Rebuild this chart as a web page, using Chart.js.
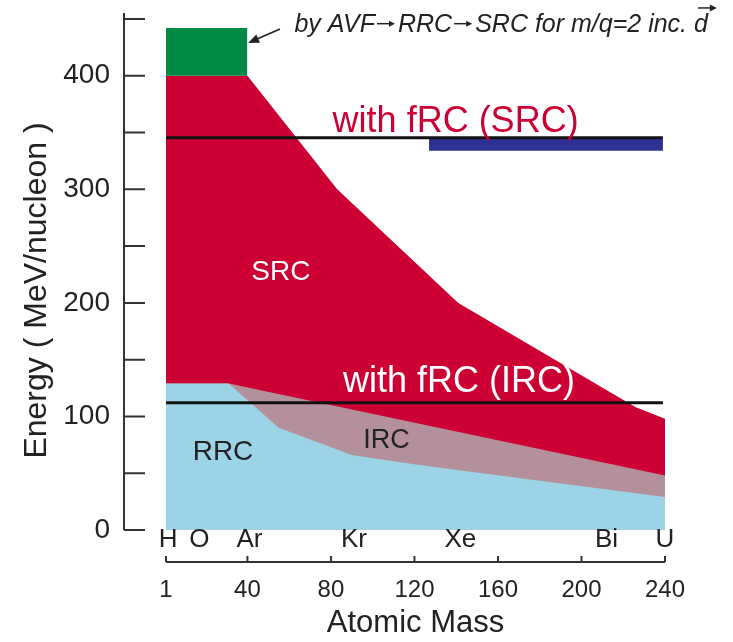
<!DOCTYPE html>
<html>
<head>
<meta charset="utf-8">
<script src="https://cdn.jsdelivr.net/npm/chart.js@4.4.1/dist/chart.umd.min.js"></script>
<style>
  html, body { margin: 0; padding: 0; background: #ffffff; }
  #wrap { width: 733px; height: 642px; position: relative; }
</style>
</head>
<body>
<div id="wrap"><canvas id="chart"></canvas></div>
<script>
const FONT = '"Liberation Sans", Arial, Helvetica, sans-serif';

// Upper edge of each accelerator region: atomic mass -> energy (MeV/nucleon)
const srcMass   = [1, 40, 83, 141, 226, 240];
const srcEnergy = [400, 400, 300, 200, 108, 98];
const ircMass   = [1, 31, 240];
const ircEnergy = [129, 129, 48];
const rrcMass   = [1, 31, 55, 90, 123, 240];
const rrcEnergy = [129, 129, 90, 66, 57, 29];

// AVF -> RRC -> SRC route for m/q = 2 (incl. polarized d)
const avfMass   = [1, 40];
const avfTop    = [442, 442];
const avfBase   = 400;

// fRC upgrade levels
const fRcMass      = [1, 239];
const fRcSrcLevel  = [345.5, 345.5];
const fRcIrcLevel  = [112, 112];
const bandMass     = [127, 239];
const bandTop      = [344.5, 344.5];
const bandBase     = 334;

// Axes
const xTicks = [1, 40, 80, 120, 160, 200, 240];
const yTicks = [0, 50, 100, 150, 200, 250, 300, 350, 400, 450];
const yLabelled = [0, 100, 200, 300, 400];
const elementNames = ['H', 'O', 'Ar', 'Kr', 'Xe', 'Bi', 'U'];
const elementAt    = [2, 17, 41, 91, 142, 212, 240];

const RED = '#cc0033', GREEN = '#008a46', SKY = '#9dd3e7', MAUVE = '#b3909b', NAVY = '#2e3192', INK = '#222222';

const pts = (xs, ys) => xs.map((x, i) => ({ x, y: ys[i] }));
const area = (label, data, color, fill) => ({
  label, data, fill, backgroundColor: color, borderColor: 'rgba(0,0,0,0)',
  borderWidth: 0, pointRadius: 0, tension: 0
});
const rule = (label, data) => ({
  label, data, fill: false, borderColor: '#111111', borderWidth: 3, pointRadius: 0, tension: 0
});

// Text placed in data coordinates (mass, energy); baseline-anchored
const notes = [
  { text: 'SRC', x: 56, y: 220, color: '#ffffff', size: 28, align: 'center' },
  { text: 'RRC', x: 28.3, y: 61.6, color: INK, size: 28, align: 'center' },
  { text: 'IRC', x: 106.6, y: 72.3, color: INK, size: 27, align: 'center' },
  { text: 'with fRC (SRC)', x: 80.8, y: 350.5, color: RED, size: 36, align: 'left' },
  { text: 'with fRC (IRC)', x: 85.8, y: 121.5, color: '#ffffff', size: 36, align: 'left' }
];
// caption pieces; null marks a small drawn arrow between stages
const routeNote = { parts: ['by AVF', null, 'RRC', null, 'SRC for m/q=2 inc. ', 'd'], x: 62.5, y: 438.6, size: 25 };
const routeArrow = { from: [55.6, 441.2], to: [40.3, 428.9] };

function smallArrow(ctx, x0, x1, yy, head, half) {
  ctx.beginPath();
  ctx.moveTo(x0, yy);
  ctx.lineTo(x1 - head + 1, yy);
  ctx.stroke();
  ctx.beginPath();
  ctx.moveTo(x1, yy);
  ctx.lineTo(x1 - head, yy - half);
  ctx.lineTo(x1 - head, yy + half);
  ctx.closePath();
  ctx.fill();
}

const decor = {
  id: 'decor',
  afterDraw(chart) {
    const { ctx, chartArea, scales: { x, y } } = chart;
    ctx.save();
    ctx.strokeStyle = '#333333';
    ctx.lineWidth = 2;

    // detached energy axis with outward ticks
    const axX = chartArea.left - 42;
    ctx.beginPath();
    ctx.moveTo(axX, y.getPixelForValue(yTicks[yTicks.length - 1]) - 6);
    ctx.lineTo(axX, y.getPixelForValue(0));
    y.ticks.forEach(t => {
      const py = y.getPixelForValue(t.value);
      ctx.moveTo(axX, py);
      ctx.lineTo(axX + 21, py);
    });
    ctx.stroke();

    // detached mass axis with inward ticks
    const axY = chartArea.bottom;
    ctx.beginPath();
    ctx.moveTo(x.getPixelForValue(xTicks[0]), axY);
    ctx.lineTo(x.getPixelForValue(xTicks[xTicks.length - 1]), axY);
    x.ticks.forEach(t => {
      const px = x.getPixelForValue(t.value);
      ctx.moveTo(px, axY);
      ctx.lineTo(px, axY - 6);
    });
    ctx.stroke();

    // element names along the mass axis
    ctx.fillStyle = INK;
    ctx.font = '26px ' + FONT;
    ctx.textAlign = 'center';
    ctx.textBaseline = 'alphabetic';
    elementNames.forEach((n, i) => ctx.fillText(n, x.getPixelForValue(elementAt[i]), y.getPixelForValue(-15)));

    // region labels
    notes.forEach(n => {
      ctx.font = n.size + 'px ' + FONT;
      ctx.fillStyle = n.color;
      ctx.textAlign = n.align;
      ctx.fillText(n.text, x.getPixelForValue(n.x), y.getPixelForValue(n.y));
    });

    // route caption (italic) with vector arrow over d
    ctx.font = 'italic ' + routeNote.size + 'px ' + FONT;
    ctx.fillStyle = INK;
    ctx.strokeStyle = INK;
    ctx.lineWidth = 1.5;
    ctx.textAlign = 'left';
    let cx = x.getPixelForValue(routeNote.x);
    const by = y.getPixelForValue(routeNote.y);
    const midY = by - routeNote.size * 0.33;
    let dLeft = 0, dRight = 0;
    routeNote.parts.forEach((p, i) => {
      if (p === null) {
        smallArrow(ctx, cx + 2, cx + 20, midY, 6, 3);
        cx += 23;
      } else {
        ctx.fillText(p, cx, by);
        const w = ctx.measureText(p).width;
        if (i === routeNote.parts.length - 1) { dLeft = cx; dRight = cx + w; }
        cx += w;
      }
    });
    smallArrow(ctx, dLeft + 4, dRight + 9, by - 24, 7, 3.5);

    // pointer to the AVF box
    const ax0 = x.getPixelForValue(routeArrow.from[0]), ay0 = y.getPixelForValue(routeArrow.from[1]);
    const ax1 = x.getPixelForValue(routeArrow.to[0]), ay1 = y.getPixelForValue(routeArrow.to[1]);
    const ang = Math.atan2(ay1 - ay0, ax1 - ax0);
    ctx.lineWidth = 1.5;
    ctx.beginPath();
    ctx.moveTo(ax0, ay0);
    ctx.lineTo(ax1 - 8 * Math.cos(ang), ay1 - 8 * Math.sin(ang));
    ctx.stroke();
    ctx.beginPath();
    ctx.moveTo(ax1, ay1);
    ctx.lineTo(ax1 - 11 * Math.cos(ang) + 4.5 * Math.sin(ang), ay1 - 11 * Math.sin(ang) - 4.5 * Math.cos(ang));
    ctx.lineTo(ax1 - 11 * Math.cos(ang) - 4.5 * Math.sin(ang), ay1 - 11 * Math.sin(ang) + 4.5 * Math.cos(ang));
    ctx.closePath();
    ctx.fill();

    ctx.restore();
  }
};

const hiddenGrid = len => ({ display: true, drawOnChartArea: false, drawTicks: true, tickLength: len, color: 'rgba(0,0,0,0)' });

new Chart(document.getElementById('chart'), {
  type: 'line',
  data: {
    datasets: [
      rule('fRC (IRC)', pts(fRcMass, fRcIrcLevel)),
      rule('fRC (SRC)', pts(fRcMass, fRcSrcLevel)),
      area('fRC band', pts(bandMass, bandTop), NAVY, { value: bandBase }),
      area('AVF route', pts(avfMass, avfTop), GREEN, { value: avfBase }),
      area('RRC', pts(rrcMass, rrcEnergy), SKY, 'origin'),
      area('IRC', pts(ircMass, ircEnergy), MAUVE, 'origin'),
      area('SRC', pts(srcMass, srcEnergy), RED, 'origin')
    ]
  },
  options: {
    responsive: true,
    maintainAspectRatio: false,
    animation: false,
    layout: { padding: { top: 19, right: 68, left: 0, bottom: 0 } },
    plugins: { legend: { display: false }, tooltip: { enabled: false } },
    scales: {
      x: {
        type: 'linear', position: 'bottom', min: 1, max: 240,
        afterBuildTicks: s => { s.ticks = xTicks.map(v => ({ value: v })); },
        afterFit: s => { s.height = 80; },
        grid: hiddenGrid(14),
        border: { display: false },
        ticks: { font: { family: FONT, size: 24 }, color: INK, padding: 0, maxRotation: 0, autoSkip: false },
        title: { display: true, text: 'Atomic Mass', font: { family: FONT, size: 31 }, color: INK, padding: { top: 0, bottom: 0 } }
      },
      y: {
        type: 'linear', min: -28.2, max: 450,
        afterBuildTicks: s => { s.ticks = yTicks.map(v => ({ value: v })); },
        afterFit: s => { s.width = 166; },
        grid: hiddenGrid(56),
        border: { display: false },
        ticks: {
          font: { family: FONT, size: 28 }, color: INK, padding: 0, autoSkip: false,
          callback: v => (yLabelled.includes(v) ? String(v) : '')
        },
        title: { display: true, text: 'Energy ( MeV/nucleon )', font: { family: FONT, size: 32 }, color: INK, padding: { top: 18, bottom: 0 } }
      }
    }
  },
  plugins: [decor]
});
</script>
</body>
</html>
